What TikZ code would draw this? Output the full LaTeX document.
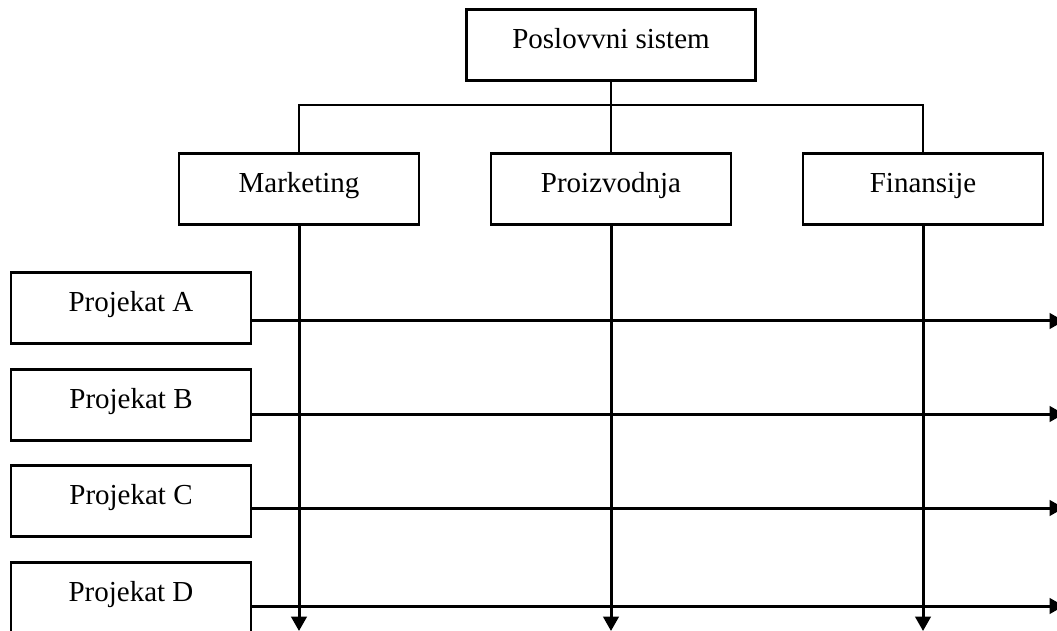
\documentclass[tikz,border=0pt]{standalone}
\usepackage{fontspec}
\setmainfont{Liberation Serif}
\usepackage{tikz}
\usetikzlibrary{arrows.meta, positioning}

\tikzset{
  box/.style={draw, line width=0.9pt, rectangle, minimum width=96pt, minimum height=28.4pt,
              inner sep=0pt, text height=9pt, text depth=6.1pt, font=\fontsize{11.6}{14}\selectfont},
  link/.style={line width=0.8pt},
  flow/.style={line width=1.2pt, -{Triangle[width=6.2pt, length=5.8pt]}}
}

\begin{document}
\begin{tikzpicture}[x=0.4pt, y=-0.4pt]
      \useasboundingbox (0,0) rectangle (1057,631);

      % organisation
      \node[box, minimum width=115.6pt] (ps) at (611,45) {Poslovvni sistem};
      \node[box] (mk) at (299,189) {Marketing};
      \node[box] (pr) at (611,189) {Proizvodnja};
      \node[box] (fi) at (923,189) {Finansije};

      % projects
      \node[box] (pa) at (131,308) {Projekat A};
      \node[box] (pb) at (131,405) {Projekat B};
      \node[box] (pc) at (131,501) {Projekat C};
      \node[box] (pd) at (131,598) {Projekat D};

      \coordinate (bus) at (611,105);
      \coordinate (right) at (1064,0);
      \coordinate (bottom) at (0,631);

      \draw[link] (ps.south) -- (pr.north);
      \draw[link] (mk.north) |- (bus) -| (fi.north);

      \draw[flow] (mk.south) -- (mk.south |- bottom);
      \draw[flow] (pr.south) -- (pr.south |- bottom);
      \draw[flow] (fi.south) -- (fi.south |- bottom);

      \draw[flow] ([yshift=-5.2pt]pa.east) coordinate (sa) -- (sa -| right);
      \draw[flow] ([yshift=-3.6pt]pb.east) coordinate (sb) -- (sb -| right);
      \draw[flow] ([yshift=-2.8pt]pc.east) coordinate (sc) -- (sc -| right);
      \draw[flow] ([yshift=-3.2pt]pd.east) coordinate (sd) -- (sd -| right);
\end{tikzpicture}
\end{document}
